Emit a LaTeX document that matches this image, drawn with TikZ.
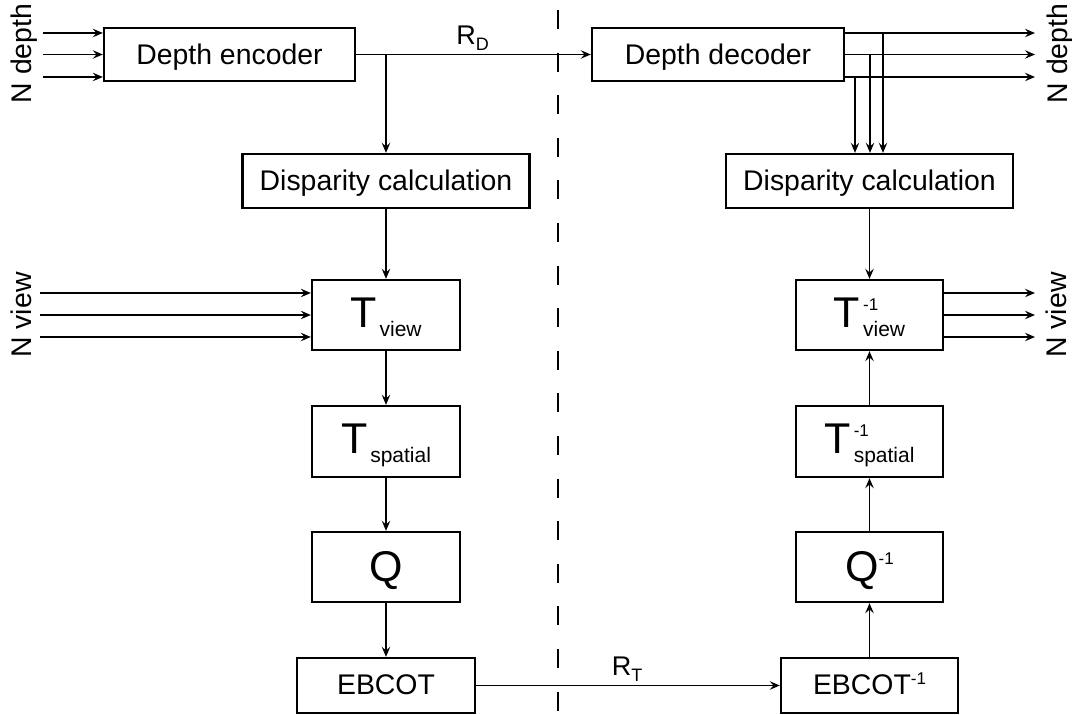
\documentclass[tikz,border=0pt]{standalone}
\usepackage{fontspec}
\setmainfont{Liberation Sans}
\usetikzlibrary{arrows.meta}

% operator with optional superscript (#2) and subscript (#3)
\newcommand\opsym[3]{{\fontsize{21.5}{21.5}\selectfont #1}\kern1.5pt%
  \makebox[0pt][l]{\raisebox{8.5pt}{\fontsize{8.5}{8.5}\selectfont #2}}%
  \raisebox{-4.5pt}{\fontsize{10.5}{10.5}\selectfont #3}}
\newcommand\supinv[1]{\raisebox{#1}{\fontsize{8.5}{8.5}\selectfont -1}}

\begin{document}
\begin{tikzpicture}[x=0.5pt,y=-0.5pt,
  box/.style={draw, line width=1.15pt, inner sep=0pt, text height=10pt, text depth=0pt,
              font=\fontsize{14.2}{17}\selectfont},
  conn/.style={line width=0.75pt},
  arr/.style={conn, -{Stealth[length=5pt,width=4.2pt,inset=1.8pt]}},
  sidelab/.style={rotate=90, anchor=base, inner sep=0pt, font=\fontsize{14.2}{17}\selectfont},
  rate/.style={anchor=base, inner sep=0pt, font=\fontsize{13.5}{16}\selectfont},
  divider/.style={line width=0.7pt, dash pattern=on 9.5pt off 11.8pt}]

\useasboundingbox (0,0) rectangle (1072,715);

% ---- encoder side ----
\node[box, minimum width=125.5pt, minimum height=26.5pt] (enc) at (229.5,54.5) {Depth encoder};
\node[box, minimum width=143.5pt, minimum height=27pt] (dispL) at (386,181) {Disparity calculation};
\node[box, minimum width=74pt, minimum height=35pt, text height=13pt] (tv) at (386,315) {\opsym{T}{}{view}};
\node[box, minimum width=74pt, minimum height=35.5pt, text height=12pt] (tsp) at (386,441.5) {\opsym{T}{}{spatial}};
\node[box, minimum width=74pt, minimum height=35pt, text height=15pt] (q) at (386,567) {{\fontsize{21.5}{21.5}\selectfont Q}};
\node[box, minimum width=89pt, minimum height=27.5pt, text height=9.5pt] (ebc) at (386,685.5) {EBCOT};

% ---- decoder side ----
\node[box, minimum width=126pt, minimum height=26.5pt] (dec) at (718,54.5) {Depth decoder};
\node[box, minimum width=143.5pt, minimum height=27pt] (dispR) at (869.5,181) {Disparity calculation};
\node[box, minimum width=73.5pt, minimum height=35pt, text height=13pt] (itv) at (869.5,315) {\opsym{T}{-1}{view}};
\node[box, minimum width=73.5pt, minimum height=35.5pt, text height=12pt] (itsp) at (869.5,441.5) {\opsym{T}{-1}{spatial}};
\node[box, minimum width=73.5pt, minimum height=35pt, text height=15pt] (iq) at (869.5,567) {{\fontsize{21.5}{21.5}\selectfont Q}\supinv{8.5pt}};
\node[box, minimum width=88.5pt, minimum height=27.5pt, text height=9.5pt] (iebc) at (869.5,685.5) {EBCOT\supinv{5pt}};

% ---- side labels ----
\node[sidelab] (ldepth) at (32,53.5) {N depth};
\node[sidelab] (lview) at (32,315) {N view};
\node[sidelab] (rdepth) at (1067,53.5) {N depth};
\node[sidelab] (rview) at (1066,315) {N view};

% ---- rate labels ----
\node[rate] (rD) at (472.5,45) {R\raisebox{-3pt}{\fontsize{9}{9}\selectfont D}};
\node[rate] (rT) at (627,676) {R\raisebox{-3pt}{\fontsize{9}{9}\selectfont T}};

% ---- channel divider ----
\coordinate (divTop) at (558,10);
\coordinate (divBot) at (558,715);
\draw[divider] (divTop) -- (divBot);

% ---- depth inputs and outputs ----
\foreach \yy [count=\i] in {33,54.5,77} {
  \coordinate (dIn\i) at (43,\yy);
  \draw[arr] (dIn\i) -- (dIn\i -| enc.west);
  \coordinate (dOut\i) at (1035,\yy);
  \draw[arr] (dOut\i -| dec.east) -- (dOut\i);
}
% ---- view inputs and outputs ----
\foreach \yy [count=\i] in {293,315,337} {
  \coordinate (vIn\i) at (40,\yy);
  \draw[arr] (vIn\i) -- (vIn\i -| tv.west);
  \coordinate (vOut\i) at (1035,\yy);
  \draw[arr] (vOut\i -| itv.east) -- (vOut\i);
}

% depth bitstream and its tap to the disparity calculation
\draw[arr] (enc.east) -- (dec.west);
\coordinate (tapD) at (dispL.north |- enc.east);
\draw[arr] (tapD) -- (dispL.north);

% decoded depth maps feeding the decoder-side disparity calculation
\foreach \xx/\yy [count=\i] in {883/33,870/54.5,855/77} {
  \coordinate (tap\i) at (\xx,\yy);
  \draw[arr] (tap\i) -- (tap\i |- dispR.north);
}

% encoder chain
\draw[arr] (dispL.south) -- (tv.north);
\draw[arr] (tv.south) -- (tsp.north);
\draw[arr] (tsp.south) -- (q.north);
\draw[arr] (q.south) -- (ebc.north);

% texture bitstream
\draw[arr] (ebc.east) -- (iebc.west);

% decoder chain
\draw[arr] (dispR.south) -- (itv.north);
\draw[arr] (iebc.north) -- (iq.south);
\draw[arr] (iq.north) -- (itsp.south);
\draw[arr] (itsp.north) -- (itv.south);
\end{tikzpicture}
\end{document}
